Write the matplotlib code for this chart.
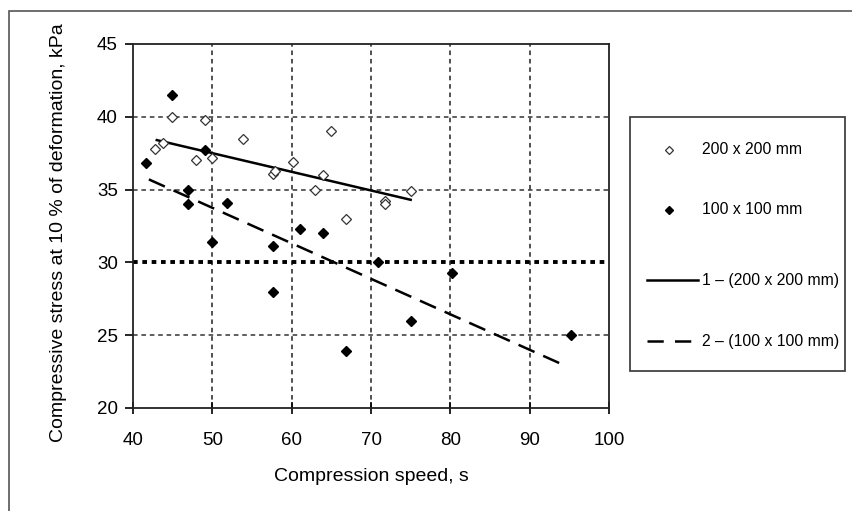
import matplotlib
matplotlib.use("Agg")
import matplotlib.pyplot as plt
from matplotlib.lines import Line2D
from matplotlib.patches import Rectangle

plt.rcParams['font.family'] = ['Liberation Sans', 'DejaVu Sans']

# Data
x_200 = [44.9, 49.1, 42.8, 43.8, 47.9, 50.0, 53.9, 57.7, 57.9, 60.2, 64.9, 63.9, 63.0, 66.9, 71.8, 71.8, 75.0]
y_200 = [40.0, 39.8, 37.8, 38.2, 37.0, 37.2, 38.5, 36.1, 36.3, 36.9, 39.0, 36.0, 35.0, 33.0, 34.2, 34.0, 34.9]

x_100 = [44.9, 41.7, 46.9, 46.9, 49.1, 51.9, 50.0, 57.7, 57.7, 61.0, 63.9, 66.9, 70.9, 75.0, 80.2, 95.2]
y_100 = [41.5, 36.8, 35.0, 34.0, 37.7, 34.1, 31.4, 31.1, 28.0, 32.3, 32.0, 23.9, 30.0, 26.0, 29.3, 25.0]

fit1_x = [43.0, 75.0]
fit1_y = [38.4, 34.3]
fit2_x = [42.0, 94.5]
fit2_y = [35.7, 22.9]

ref_y = 30

xticks = [40, 50, 60, 70, 80, 90, 100]
yticks = [20, 25, 30, 35, 40, 45]

labels = ['200 x 200 mm', '100 x 100 mm', '1 \u2013 (200 x 200 mm)', '2 \u2013 (100 x 100 mm)']

W, H = 852, 511
fig = plt.figure(figsize=(W / 100, H / 100), dpi=100)
fig.patch.set_facecolor('white')


def fx(px):
    return px / W


def fy(py):
    return 1 - py / H


# outer frame (left and top visible)
fig.add_artist(Rectangle((fx(9), -0.05), 1.2, fy(11) + 0.05, transform=fig.transFigure,
                         fill=False, edgecolor='#555555', linewidth=1.2))

ax = fig.add_axes([fx(133), fy(408), (609 - 133) / W, (408 - 44) / H])
ax.set_xlim(40, 100)
ax.set_ylim(20, 45)
ax.set_xticks(xticks)
ax.set_yticks(yticks)

for v in xticks[1:-1]:
    ax.axvline(v, color='#222222', lw=1.1, ls=(0, (3, 2.5)), zorder=1)
for v in yticks[1:-1]:
    if v == ref_y:
        continue
    ax.axhline(v, color='#333333', lw=1.1, ls=(0, (3, 2.5)), zorder=1)

ax.axhline(ref_y, color='black', lw=2.8, ls=(0, (1.2, 1.2)), zorder=2)

ax.plot(fit1_x, fit1_y, color='black', lw=1.8, zorder=3)
ax.plot(fit2_x, fit2_y, color='black', lw=1.8, ls=(0, (7, 3.8)), zorder=3)

ax.plot(x_200, y_200, ls='none', marker='D', ms=5.5, mfc='white', mec='#333333', mew=0.9, zorder=4)
ax.plot(x_100, y_100, ls='none', marker='D', ms=5.5, mfc='black', mec='black', zorder=4)

for s in ax.spines.values():
    s.set_linewidth(1.3)
    s.set_color('#222222')

ax.tick_params(axis='x', direction='inout', length=8, width=1.2, labelsize=13.5, pad=13)
ax.tick_params(axis='y', direction='out', length=6, width=1.2, labelsize=13.5, pad=5)

ax.set_xlabel('Compression speed, s', fontsize=14, labelpad=14)
ax.set_ylabel('Compressive stress at 10 % of deformation, kPa', fontsize=14)
ax.yaxis.set_label_coords((67 - 133) / 476, (408 - 233) / 364)

# legend box drawn at the reference's place
fig.add_artist(Rectangle((fx(630), fy(371)), (845 - 630) / W, (371 - 117) / H,
                         transform=fig.transFigure, fill=False, edgecolor='#333333', linewidth=1.2))
rows = [150, 210, 280, 341]
leg_fs = 11.3
fig.add_artist(Line2D([fx(669)], [fy(rows[0])], ls='none', marker='D', ms=4.5, mfc='white',
                      mec='#333333', mew=0.9, transform=fig.transFigure))
fig.add_artist(Line2D([fx(669)], [fy(rows[1])], ls='none', marker='D', ms=4.5, mfc='black',
                      mec='black', transform=fig.transFigure))
fig.add_artist(Line2D([fx(647), fx(698)], [fy(rows[2])] * 2, color='black', lw=1.8,
                      transform=fig.transFigure))
fig.add_artist(Line2D([fx(647), fx(698)], [fy(rows[3])] * 2, color='black', lw=1.8,
                      ls=(0, (6.5, 4.5)), transform=fig.transFigure))
for r, lab in zip(rows, labels):
    fig.text(fx(702), fy(r), lab, fontsize=leg_fs, ha='left', va='center')

fig.savefig('out.png', dpi=100)
